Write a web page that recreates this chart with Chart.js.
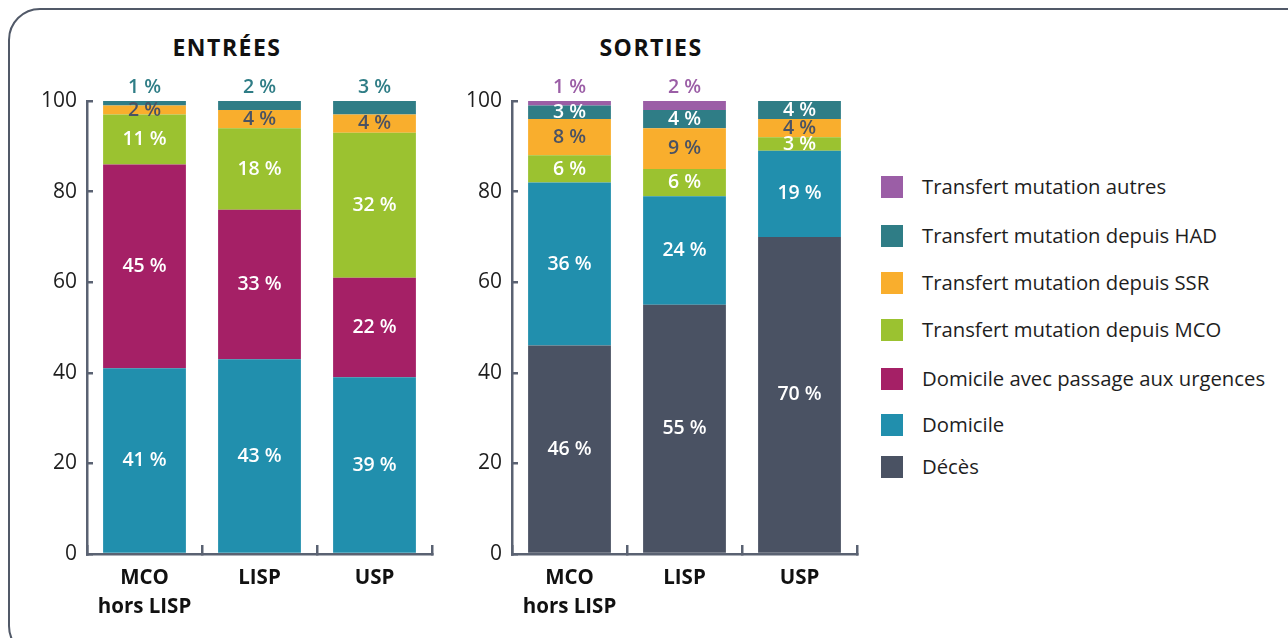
<!DOCTYPE html>
<html>
<head>
<meta charset="utf-8">
<script src="https://cdn.jsdelivr.net/npm/chart.js@4"></script>
<style>
  body { margin: 0; width: 1288px; height: 638px; overflow: hidden; background: #fff; font-family: "Open Sans", sans-serif; position: relative; }
  .frame { position: absolute; left: 8px; top: 8px; width: 1310px; height: 650px; border: 2.5px solid #515968; border-radius: 32px; box-sizing: border-box; }
  .titre { position: absolute; top: 31px; transform: translateX(-50%); font-weight: 700; font-size: 23px; letter-spacing: 1.5px; color: #111; }
  canvas { position: absolute; top: 0; }
  #legende { position: absolute; left: 881px; top: 0; }
  .item { position: absolute; left: 0; white-space: nowrap; font-size: 20.3px; color: #1e1e1e; }
  .item span.box { position: absolute; left: 0; top: -11px; width: 22px; height: 22px; }
  .item span.txt { position: absolute; left: 41px; top: -15px; }
</style>
</head>
<body>
<div class="frame"></div>
<div class="titre" style="left:227px">ENTRÉES</div>
<div class="titre" style="left:651px">SORTIES</div>
<canvas id="entrees" width="440" height="638" style="left:0"></canvas>
<canvas id="sorties" width="440" height="638" style="left:440px"></canvas>
<div id="legende"></div>
<script>
const categories = [['MCO', 'hors LISP'], 'LISP', 'USP'];
const yTicks = [0, 20, 40, 60, 80, 100];

const seriesNames = ['Décès', 'Domicile', 'Domicile avec passage aux urgences',
  'Transfert mutation depuis MCO', 'Transfert mutation depuis SSR',
  'Transfert mutation depuis HAD', 'Transfert mutation autres'];
const seriesColors = ['#4a5263', '#218fad', '#a52066', '#9bc230', '#f9ae2d', '#2f7d86', '#9b5ea6'];

// ENTREES
const entreesDomicile = [41, 43, 39];
const entreesUrgences = [45, 33, 22];
const entreesMCO = [11, 18, 32];
const entreesSSR = [2, 4, 4];
const entreesHAD = [1, 2, 3];

// SORTIES
const sortiesDeces = [46, 55, 70];
const sortiesDomicile = [36, 24, 19];
const sortiesMCO = [6, 6, 3];
const sortiesSSR = [8, 9, 4];
const sortiesHAD = [3, 4, 4];
const sortiesAutres = [1, 2, 0];

const axisColor = '#5a6272';
const darkText = '#4a5263';

function dataset(idx, values) {
  return {
    label: seriesNames[idx],
    data: values,
    backgroundColor: seriesColors[idx],
    labelColor: idx === 4 ? darkText : '#ffffff',
    borderWidth: 0,
    barPercentage: 0.72,
    categoryPercentage: 1
  };
}

// etiquettes des segments (au-dessus de la barre pour la serie du haut)
const segLabels = {
  id: 'segLabels',
  afterDatasetsDraw(chart, args, opts) {
    const ctx = chart.ctx;
    const yScale = chart.scales.y;
    ctx.save();
    ctx.font = '600 19.5px "Open Sans"';
    ctx.textAlign = 'center';
    ctx.textBaseline = 'middle';
    chart.data.datasets.forEach(function (ds, i) {
      const meta = chart.getDatasetMeta(i);
      meta.data.forEach(function (bar, j) {
        const v = ds.data[j];
        if (!v) return;
        var y;
        if (i === opts.topIndex) {
          y = yScale.getPixelForValue(100) - 14;
          ctx.fillStyle = ds.backgroundColor;
        } else {
          y = (bar.y + bar.base) / 2;
          ctx.fillStyle = ds.labelColor;
        }
        ctx.fillText(v + ' %', bar.x, y);
      });
    });
    ctx.restore();
  }
};

function makeChart(id, datasets, topIndex, yWidth, padRight) {
  const ctx = document.getElementById(id).getContext('2d');
  return new Chart(ctx, {
    type: 'bar',
    data: { labels: categories, datasets: datasets },
    plugins: [segLabels],
    options: {
      responsive: false,
      animation: false,
      layout: { padding: { left: 0, right: padRight, top: 101, bottom: 0 } },
      plugins: {
        legend: { display: false },
        tooltip: { enabled: false },
        segLabels: { topIndex: topIndex }
      },
      scales: {
        x: {
          stacked: true,
          grid: { drawOnChartArea: false, drawTicks: true, tickLength: -9, color: axisColor, lineWidth: 2.5, offset: true },
          border: { display: true, color: axisColor, width: 2.5 },
          ticks: { color: '#111', font: { family: 'Open Sans', size: 20.5, weight: 'bold', lineHeight: 1.4 }, padding: 19, maxRotation: 0 },
          afterFit: function (scale) { scale.height = 84; }
        },
        y: {
          stacked: true,
          min: 0,
          max: 100,
          afterBuildTicks: function (scale) { scale.ticks = yTicks.map(function (v) { return { value: v }; }); },
          grid: { drawOnChartArea: false, drawTicks: true, tickLength: -6, color: axisColor, lineWidth: 2.5 },
          border: { display: true, color: axisColor, width: 2.5 },
          ticks: { color: '#1e1e1e', font: { family: 'Open Sans', size: 21 }, padding: 16 },
          afterFit: function (scale) { scale.width = yWidth; }
        }
      }
    }
  });
}

makeChart('entrees', [
  dataset(1, entreesDomicile),
  dataset(2, entreesUrgences),
  dataset(3, entreesMCO),
  dataset(4, entreesSSR),
  dataset(5, entreesHAD)
], 4, 87, 8);

makeChart('sorties', [
  dataset(0, sortiesDeces),
  dataset(1, sortiesDomicile),
  dataset(3, sortiesMCO),
  dataset(4, sortiesSSR),
  dataset(5, sortiesHAD),
  dataset(6, sortiesAutres)
], 5, 72, 23);

// legende, dans l'ordre inverse de l'empilement
const legendY = [187, 236, 283, 330, 379, 425, 467];
const leg = document.getElementById('legende');
for (let k = 0; k < seriesNames.length; k++) {
  const idx = seriesNames.length - 1 - k;
  const item = document.createElement('div');
  item.className = 'item';
  item.style.top = legendY[k] + 'px';
  item.innerHTML = '<span class="box" style="background:' + seriesColors[idx] + '"></span><span class="txt">' + seriesNames[idx] + '</span>';
  leg.appendChild(item);
}
</script>
</body>
</html>
